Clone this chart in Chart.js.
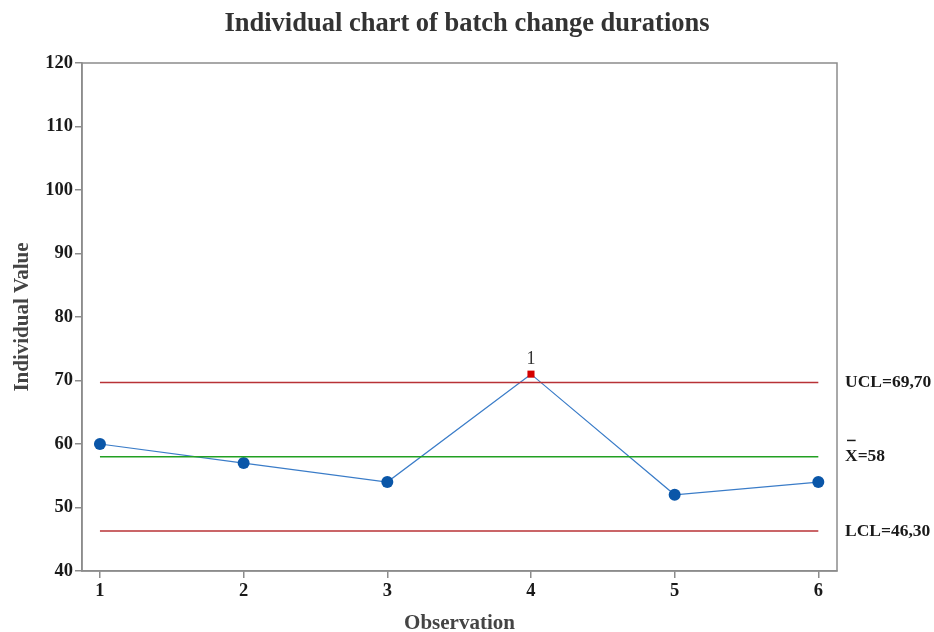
<!DOCTYPE html>
<html>
<head>
<meta charset="utf-8">
<script src="https://cdn.jsdelivr.net/npm/chart.js@4/dist/chart.umd.min.js"></script>
<style>
  html, body { margin: 0; padding: 0; background: #fff; }
  #wrap { width: 934px; height: 632px; }
</style>
</head>
<body>
<div id="wrap"><canvas id="chart" width="934" height="632"></canvas></div>
<script>
const observations = [1, 2, 3, 4, 5, 6]
const durations = [60, 57, 54, 71, 52, 54]
const outOfControl = [4]
const ucl = 69.70
const mean = 58
const lcl = 46.30
const yTicks = [40, 50, 60, 70, 80, 90, 100, 110, 120]

const serif = '"Liberation Serif", "DejaVu Serif", serif'
const axisGray = '#8c8c8c'

function limitLine (value) {
  return [{ x: observations[0], y: value }, { x: observations[observations.length - 1], y: value }]
}

// frame plus the limit labels on the right and the test-failure mark
const extras = {
  id: 'extras',
  afterDraw (chart) {
    const ctx = chart.ctx
    const a = chart.chartArea
    const y = chart.scales.y
    const x = chart.scales.x
    ctx.save()
    ctx.strokeStyle = axisGray
    ctx.lineWidth = 1.5
    ctx.strokeRect(a.left, a.top, a.right - a.left, a.bottom - a.top)

    ctx.fillStyle = '#1a1a1a'
    ctx.font = 'bold 17.5px ' + serif
    ctx.textBaseline = 'middle'
    ctx.textAlign = 'left'
    const lx = a.right + 8
    ctx.fillText('UCL=' + ucl.toFixed(2).replace('.', ','), lx, y.getPixelForValue(ucl))
    ctx.fillText('LCL=' + lcl.toFixed(2).replace('.', ','), lx, y.getPixelForValue(lcl))
    const my = y.getPixelForValue(mean)
    ctx.fillText('X=' + mean, lx, my)
    const xw = ctx.measureText('X').width
    ctx.fillRect(lx + 2, my - 17, xw - 4, 1.5)

    ctx.font = '18px ' + serif
    ctx.fillStyle = '#333'
    ctx.textAlign = 'center'
    outOfControl.forEach(o => {
      ctx.fillText('1', x.getPixelForValue(o), y.getPixelForValue(durations[o - 1]) - 15)
    })
    ctx.restore()
  }
}

new Chart(document.getElementById('chart'), {
  type: 'line',
  data: {
    datasets: [
      {
        label: 'UCL',
        data: limitLine(ucl),
        borderColor: '#b83236',
        borderWidth: 1.5,
        pointRadius: 0
      },
      {
        label: 'Mean',
        data: limitLine(mean),
        borderColor: '#22a022',
        borderWidth: 1.5,
        pointRadius: 0
      },
      {
        label: 'LCL',
        data: limitLine(lcl),
        borderColor: '#b83236',
        borderWidth: 1.5,
        pointRadius: 0
      },
      {
        label: 'Duration',
        data: observations.map((o, i) => ({ x: o, y: durations[i] })),
        borderColor: '#3a7cc8',
        borderWidth: 1.2,
        pointStyle: observations.map(o => outOfControl.includes(o) ? 'rect' : 'circle'),
        pointRadius: observations.map(o => outOfControl.includes(o) ? 5 : 6),
        pointBackgroundColor: observations.map(o => outOfControl.includes(o) ? '#d40000' : '#0a56a8'),
        pointBorderColor: observations.map(o => outOfControl.includes(o) ? '#d40000' : '#0a56a8'),
        pointBorderWidth: 0
      }
    ]
  },
  options: {
    responsive: false,
    animation: false,
    layout: { padding: 0 },
    plugins: {
      legend: { display: false },
      tooltip: { enabled: false },
      title: {
        display: true,
        text: 'Individual chart of batch change durations',
        color: '#333',
        font: { family: serif, size: 26.5, weight: 'bold', lineHeight: 1.2 },
        padding: { top: 8, bottom: 23.2 }
      }
    },
    scales: {
      x: {
        type: 'linear',
        min: 0.875,
        max: 6.13,
        afterBuildTicks: s => { s.ticks = observations.map(v => ({ value: v })) },
        afterFit: s => { s.height = 61 },
        grid: { drawOnChartArea: false, tickLength: 7, tickColor: axisGray, lineWidth: 1.5 },
        border: { color: axisGray, width: 1.5 },
        ticks: { color: '#1a1a1a', padding: 2, font: { family: serif, size: 18.5, weight: 'bold' } },
        title: {
          display: true,
          text: 'Observation',
          color: '#444',
          font: { family: serif, size: 21, weight: 'bold', lineHeight: 0.8 },
          padding: { top: 0, bottom: 0 }
        }
      },
      y: {
        min: 40,
        max: 120,
        afterBuildTicks: s => { s.ticks = yTicks.map(v => ({ value: v })) },
        afterFit: s => { s.width = 82 },
        grid: { drawOnChartArea: false, tickLength: 7, tickColor: axisGray, lineWidth: 1.5 },
        border: { color: axisGray, width: 1.5 },
        ticks: { color: '#1a1a1a', padding: 2, font: { family: serif, size: 18.5, weight: 'bold' } },
        title: {
          display: true,
          text: 'Individual Value',
          color: '#444',
          font: { family: serif, size: 21, weight: 'bold' },
          padding: { top: 10, bottom: 0 }
        }
      },
      y2: {
        position: 'right',
        display: true,
        min: 40,
        max: 120,
        afterFit: s => { s.width = 97 },
        grid: { display: false },
        border: { display: false },
        ticks: { display: false }
      }
    }
  },
  plugins: [extras]
})
</script>
</body>
</html>
